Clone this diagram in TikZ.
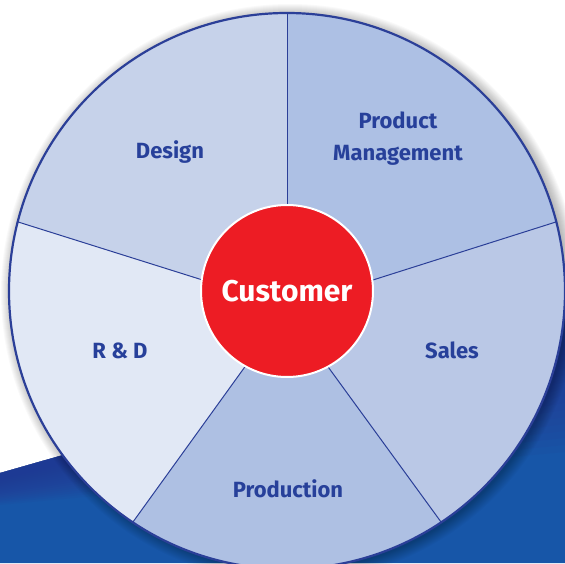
\documentclass[tikz,border=0pt]{standalone}
\usepackage{fontspec}
\setmainfont{Fira Sans}
\usetikzlibrary{calc}
\definecolor{navy}{HTML}{2B3F98}
\definecolor{txtblue}{HTML}{27409A}
\definecolor{fillDesign}{HTML}{C6D2EA}
\definecolor{fillPM}{HTML}{ADC0E4}
\definecolor{fillSales}{HTML}{BAC8E6}
\definecolor{fillProd}{HTML}{AEC0E3}
\definecolor{fillRD}{HTML}{E1E8F5}
\definecolor{custred}{HTML}{ED1C24}
\definecolor{bgtop}{HTML}{263A94}
\definecolor{bgbot}{HTML}{1756A8}
\tikzset{
  seglabel/.style={text=txtblue, font=\bfseries\fontsize{22}{32}\selectfont, align=center, inner sep=0},
  divider/.style={draw=navy, line width=1},
}
\begin{document}
\begin{tikzpicture}[x=1pt,y=1pt]
\useasboundingbox (0,0) rectangle (565,563);
\fill[white] (0,0) rectangle (565,563);
% blue background swoosh
\fill[bgbot] (0,90) -- (565,251) -- (565,0) -- (0,0) -- cycle;
\foreach \i in {1,...,20} {
  \fill[bgtop, opacity=0.1] (0,90) -- (565,251) -- (565,{251-7*\i}) -- (0,{90-1.6*\i}) -- cycle;
}
\coordinate (C) at (287,272);
% soft shadow
\foreach \i in {1,...,12} {
  \fill[black, opacity=0.022] ($(C)+(3,-2)$) circle (277+\i);
}
% outer points
\coordinate (o1) at ($(C)+(90:278)$);
\coordinate (o2) at ($(C)+(14.4:278)$);
\coordinate (o3) at ($(C)+(-56.3:278)$);
\coordinate (o4) at ($(C)+(-123.7:278)$);
\coordinate (o5) at ($(C)+(165.6:278)$);
% inner points
\coordinate (i1) at ($(C)+(90:85)$);
\coordinate (i2) at ($(C)+(7.1:85)$);
\coordinate (i3) at ($(C)+(-61.7:85)$);
\coordinate (i4) at ($(C)+(-118.9:85)$);
\coordinate (i5) at ($(C)+(172.6:85)$);
% segments
\fill[fillPM] (C) -- (i1) -- (o1) arc[start angle=90, end angle=14.4, radius=278] -- (i2) -- cycle;
\fill[fillSales] (C) -- (i2) -- (o2) arc[start angle=14.4, end angle=-56.3, radius=278] -- (i3) -- cycle;
\fill[fillProd] (C) -- (i3) -- (o3) arc[start angle=-56.3, end angle=-123.7, radius=278] -- (i4) -- cycle;
\fill[fillRD] (C) -- (i4) -- (o4) arc[start angle=-123.7, end angle=-194.4, radius=278] -- (i5) -- cycle;
\fill[fillDesign] (C) -- (i5) -- (o5) arc[start angle=165.6, end angle=90, radius=278] -- (i1) -- cycle;
% dividers
\draw[divider] (i1) -- (o1);
\draw[divider] (i2) -- (o2);
\draw[divider] (i3) -- (o3);
\draw[divider] (i4) -- (o4);
\draw[divider] (i5) -- (o5);
% outline
\draw[navy, line width=2.2] (C) circle (278);
% centre
\node[circle, fill=custred, draw=white, line width=2, minimum size=172, inner sep=0, text=white,
  font=\bfseries\fontsize{30}{30}\selectfont] (cust) at (C) {Customer};
% labels
\node[seglabel] (design) at (170,411) {Design};
\node[seglabel] (pm) at (398,424) {Product\\Management};
\node[seglabel] (rd) at (120,212) {R \& D};
\node[seglabel] (sales) at (452,213) {Sales};
\node[seglabel] (prod) at (288,74) {Production};
\end{tikzpicture}
\end{document}
